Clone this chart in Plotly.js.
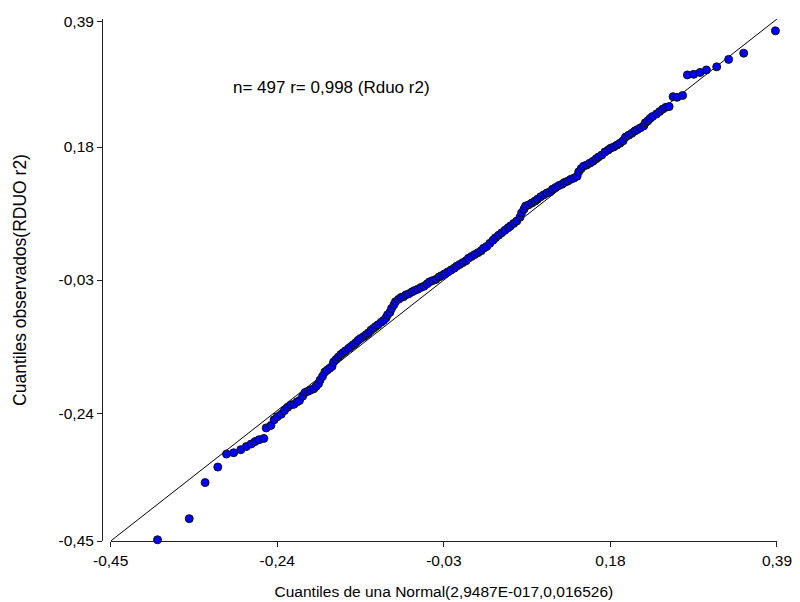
<!DOCTYPE html>
<html>
<head>
<meta charset="utf-8">
<script src="https://cdn.plot.ly/plotly-3.0.1.min.js"></script>
<style>html,body{margin:0;padding:0;background:#fff}#chart{width:800px;height:602px}</style>
</head>
<body>
<div id="chart"></div>
<script>
const qTheoretical = [
  -0.391,-0.351,-0.331,-0.315,-0.304,-0.295,-0.286,-0.279,-0.273,-0.268,-0.263,-0.257,
  -0.254,-0.248,-0.244,-0.240,-0.235,-0.231,-0.227,-0.223,-0.219,-0.215,-0.212,-0.208,
  -0.205,-0.201,-0.198,-0.194,-0.191,-0.188,-0.186,-0.183,-0.180,-0.177,-0.174,-0.171,
  -0.169,-0.166,-0.163,-0.160,-0.157,-0.154,-0.150,-0.147,-0.144,-0.141,-0.138,-0.135,
  -0.131,-0.128,-0.125,-0.122,-0.119,-0.116,-0.113,-0.109,-0.106,-0.103,-0.101,-0.098,
  -0.096,-0.093,-0.091,-0.087,-0.084,-0.081,-0.078,-0.074,-0.070,-0.067,-0.063,-0.059,
  -0.055,-0.051,-0.048,-0.044,-0.040,-0.036,-0.033,-0.029,-0.025,-0.021,-0.017,-0.014,
  -0.010,-0.006,-0.002,0.001,0.005,0.009,0.013,0.017,0.020,0.024,0.028,0.032,0.035,
  0.039,0.043,0.047,0.051,0.054,0.058,0.062,0.066,0.068,0.071,0.073,0.077,0.081,0.085,
  0.088,0.092,0.096,0.100,0.104,0.107,0.111,0.115,0.119,0.122,0.126,0.130,0.134,0.138,
  0.140,0.143,0.146,0.150,0.154,0.158,0.162,0.165,0.169,0.173,0.177,0.180,0.184,0.188,
  0.192,0.196,0.199,0.203,0.207,0.211,0.214,0.218,0.222,0.224,0.227,0.230,0.233,0.238,
  0.242,0.246,0.250,0.254,0.259,0.264,0.271,0.277,0.285,0.293,0.301,0.314,0.329,0.348,
  0.388
];
const qObserved = [
  -0.448,-0.414,-0.356,-0.331,-0.310,-0.308,-0.303,-0.298,-0.294,-0.290,-0.287,-0.285,
  -0.268,-0.264,-0.255,-0.250,-0.246,-0.240,-0.235,-0.231,-0.230,-0.226,-0.224,-0.217,
  -0.211,-0.209,-0.207,-0.205,-0.201,-0.197,-0.191,-0.185,-0.178,-0.175,-0.172,-0.169,
  -0.162,-0.158,-0.154,-0.150,-0.147,-0.144,-0.140,-0.137,-0.134,-0.131,-0.127,-0.124,
  -0.121,-0.118,-0.115,-0.111,-0.108,-0.105,-0.102,-0.098,-0.095,-0.091,-0.086,-0.082,
  -0.076,-0.070,-0.065,-0.061,-0.058,-0.057,-0.054,-0.052,-0.049,-0.047,-0.045,-0.042,
  -0.040,-0.036,-0.033,-0.031,-0.029,-0.025,-0.023,-0.020,-0.017,-0.014,-0.011,-0.008,
  -0.005,-0.002,0.001,0.005,0.008,0.011,0.014,0.017,0.021,0.024,0.029,0.034,0.038,
  0.042,0.046,0.050,0.054,0.057,0.061,0.065,0.071,0.078,0.084,0.089,0.091,0.094,0.097,
  0.100,0.104,0.107,0.110,0.112,0.116,0.119,0.122,0.124,0.127,0.129,0.132,0.134,0.137,
  0.144,0.149,0.153,0.155,0.158,0.161,0.165,0.168,0.171,0.176,0.179,0.182,0.184,0.187,
  0.190,0.194,0.200,0.203,0.206,0.210,0.212,0.215,0.218,0.223,0.226,0.230,0.233,0.237,
  0.241,0.245,0.248,0.249,0.265,0.264,0.267,0.300,0.301,0.304,0.308,0.313,0.325,0.335,
  0.371
];
// Reference line y = x across the axis range
const refLineX = [-0.45, 0.39];
const refLineY = [-0.45, 0.39];

const xTickVals = [-0.45, -0.24, -0.03, 0.18, 0.39];
const xTickText = ["-0,45", "-0,24", "-0,03", "0,18", "0,39"];
const yTickVals = [-0.45, -0.2456, -0.03, 0.184, 0.3856];
const yTickText = ["-0,45", "-0,24", "-0,03", "0,18", "0,39"];

const annotationText = "n= 497 r= 0,998 (Rduo r2)";
const xTitle = "Cuantiles de una Normal(2,9487E-017,0,016526)";
const yTitle = "Cuantiles observados(RDUO r2)";

const FONT = "Liberation Sans, Arial, sans-serif";

const traces = [
  {
    x: refLineX, y: refLineY, type: "scatter", mode: "lines",
    line: {color: "#000000", width: 1}, hoverinfo: "skip", showlegend: false,
    cliponaxis: false
  },
  {
    x: qTheoretical, y: qObserved, type: "scatter", mode: "markers",
    marker: {color: "#0000FF", size: 8, line: {color: "#111111", width: 1}},
    showlegend: false, cliponaxis: false
  }
];

const layout = {
  width: 800, height: 602,
  paper_bgcolor: "#ffffff", plot_bgcolor: "#ffffff",
  margin: {l: 102, r: 23, t: 19, b: 61},
  font: {family: FONT, size: 15, color: "#000000"},
  xaxis: {
    domain: [0.0129, 1],
    range: [-0.45, 0.39],
    tickmode: "array", tickvals: xTickVals, ticktext: xTickText,
    ticks: "outside", ticklen: 5, tickcolor: "#222222",
    showline: true, linecolor: "#222222", linewidth: 1,
    showgrid: false, zeroline: false,
    tickfont: {family: FONT, size: 15.5, color: "#000000"},
    title: {text: xTitle, font: {family: FONT, size: 15.5, color: "#000000"}, standoff: 18},
    automargin: false
  },
  yaxis: {
    anchor: "free", position: 0,
    range: [-0.45, 0.39],
    tickmode: "array", tickvals: yTickVals, ticktext: yTickText,
    ticks: "outside", ticklen: 5, tickcolor: "#222222",
    showline: true, linecolor: "#222222", linewidth: 1,
    showgrid: false, zeroline: false,
    tickfont: {family: FONT, size: 15.5, color: "#000000"},
    title: {text: yTitle, font: {family: FONT, size: 17.5, color: "#000000"}, standoff: 26},
    automargin: false
  },
  annotations: [{
    text: annotationText, x: -0.298, y: 0.280, xref: "x", yref: "y",
    xanchor: "left", yanchor: "middle", showarrow: false,
    font: {family: FONT, size: 17, color: "#000000"}
  }]
};

Plotly.newPlot("chart", traces, layout, {staticPlot: true, displayModeBar: false});
</script>
</body>
</html>
